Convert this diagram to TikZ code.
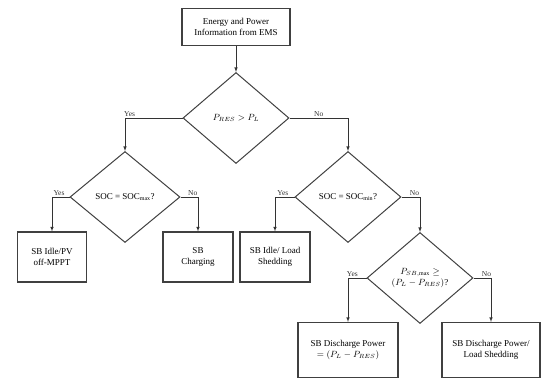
\documentclass[tikz,border=0pt]{standalone}
\usepackage{amsmath,amssymb}
\usepackage{fontspec}
\setmainfont{Liberation Serif}
\usepackage{tikz}
\usetikzlibrary{arrows,shapes.geometric}

\tikzset{
  box/.style={draw=black!75,line width=1.2pt,align=center,inner sep=1pt,font=\fontsize{9}{11}\selectfont},
  dec/.style={draw=black!75,line width=1pt,diamond,aspect=1.15,inner sep=0pt,minimum width=106pt,minimum height=91pt,align=center,font=\fontsize{9}{11}\selectfont},
  arr/.style={-latex,semithick,black!80},
  yn/.style={above,inner sep=1.5pt,font=\fontsize{7.5}{9}\selectfont}
}

\begin{document}
\begin{tikzpicture}[x=1pt,y=-1pt]
      \useasboundingbox (0,0) rectangle (542,380);

      % top
      \node (ems) at (236,27) [box,minimum width=108pt,minimum height=37pt] {Energy and Power\\Information from EMS};
      \node (d1) at (236,118) [dec] {$P_{RES} > P_L$};
      \draw[arr] (ems) to (d1.north);

      % left branch
      \node (d2) at (125,197) [dec,minimum width=110pt] {SOC = SOC$_{\max}$?};
      \node (b1) at (52,257) [box,minimum width=69pt,minimum height=50pt] {SB Idle/PV\\off-MPPT};
      \node (b2) at (198,257) [box,minimum width=70pt,minimum height=50pt] {SB\\Charging};

      % right branch
      \node (d3) at (348,197) [dec] {SOC = SOC$_{\min}$?};
      \node (b3) at (275,257) [box,minimum width=70pt,minimum height=50pt] {SB Idle/ Load\\Shedding};
      \node (d4) at (420,278) [dec] {$P_{SB,\max} \geq$\\$(P_L - P_{RES})$?};
      \node (b4) at (348,350) [box,minimum width=100pt,minimum height=55pt] {SB Discharge Power\\$= (P_L - P_{RES})$};
      \node (b5) at (491,350) [box,minimum width=98pt,minimum height=55pt] {SB Discharge Power/\\Load Shedding};

      % connectors
      \draw[arr] (d1.west) -| node[yn,pos=.46] {Yes} (d2.north);
      \draw[arr] (d1.east) -| node[yn,pos=.25] {No} (d3.north);
      \draw[arr] (d2.west) -| node[yn,pos=.3] {Yes} (b1.north);
      \draw[arr] (d2.east) -| node[yn,pos=.35] {No} (b2.north);
      \draw[arr] (d3.west) -| node[yn,pos=.3] {Yes} (b3.north);
      \draw[arr] (d3.east) -| node[yn,pos=.35] {No} (d4.north);
      \draw[arr] (d4.west) -| node[yn,pos=.38] {Yes} (b4.north);
      \draw[arr] (d4.east) -| node[yn,pos=.37] {No} (b5.north);

    \end{tikzpicture}
\end{document}
